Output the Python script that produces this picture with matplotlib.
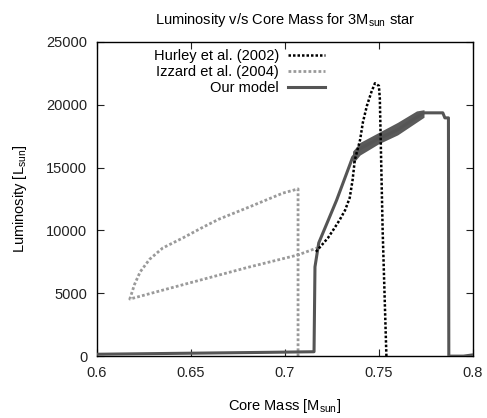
import numpy as np
import matplotlib
matplotlib.use("Agg")
import matplotlib.pyplot as plt

plt.rcParams['font.family'] = ['Liberation Sans', 'DejaVu Sans']
plt.rcParams['mathtext.fontset'] = 'custom'
plt.rcParams['mathtext.rm'] = 'Liberation Sans'
plt.rcParams['mathtext.it'] = 'Liberation Sans'

# Hurley et al. (2002)
hurley_m = [0.7165, 0.7200, 0.7229, 0.7260, 0.7290, 0.7320, 0.7345, 0.7360,
            0.7372, 0.7400, 0.7415, 0.7436, 0.7460, 0.7479, 0.7500, 0.7505,
            0.7520, 0.7540]
hurley_L = [8300, 8900, 9400, 10100, 10800, 11600, 12600, 14000,
            15600, 17200, 18600, 19900, 21000, 21700, 21500, 20500,
            10000, 0]

# Izzard et al. (2004)
izzard_m = [0.7070, 0.7070, 0.6990, 0.6810, 0.6650, 0.6570, 0.6457, 0.6350,
            0.6280, 0.6230, 0.6200, 0.6175, 0.6400, 0.6600, 0.6800, 0.7070, 0.7170]
izzard_L = [0, 13300, 12970, 11860, 10900, 10300, 9400, 8600,
            7700, 6700, 5700, 4540, 5450, 6250, 7050, 8050, 8600]

# Our model
model_m = [0.600, 0.630, 0.660, 0.690, 0.7155, 0.7160, 0.7180, 0.7275, 0.7360,
           0.7400, 0.7500, 0.7600, 0.7700, 0.7740, 0.7840, 0.7851, 0.7870, 0.7872,
           0.7950, 0.8000]
model_L = [150, 200, 250, 300, 350, 7100, 9000, 12400, 15800,
           16500, 17300, 18000, 19000, 19350, 19350, 18950, 18950, 0,
           0, 100]

# scatter band around our model track
band_m = [0.7360, 0.7400, 0.7500, 0.7600, 0.7700, 0.7740]
band_lo = [15300, 16000, 16900, 17600, 18600, 19000]
band_hi = [16300, 17000, 17800, 18600, 19500, 19600]

fig = plt.figure(figsize=(4.87, 4.18), dpi=100)
ax = fig.add_axes([0.199, 0.148, 0.772, 0.752])

ax.plot(izzard_m, izzard_L, color='#9a9a9a', lw=2.0, ls=(0, (1, 0.8)),
        label='Izzard et al. (2004)', zorder=2)
ax.fill_between(band_m, band_lo, band_hi, color='#5a5a5a', lw=0, zorder=3)
ax.plot(model_m, model_L, color='#555555', lw=2.2, label='Our model', zorder=3)
ax.plot(hurley_m, hurley_L, color='black', lw=1.8, ls=(0, (1, 0.8)),
        label='Hurley et al. (2002)', zorder=4)

ax.set_xlim(0.6, 0.8)
ax.set_ylim(0, 25000)
ax.set_xticks([0.6, 0.65, 0.7, 0.75, 0.8])
ax.set_xticklabels(['0.6', '0.65', '0.7', '0.75', '0.8'])
ax.set_yticks([0, 5000, 10000, 15000, 20000, 25000])
ax.tick_params(direction='in', top=True, right=True, length=5, width=0.8,
               labelsize=10.5, pad=7, colors='#222222')
for s in ax.spines.values():
    s.set_linewidth(1.0)

ax.set_title(r'Luminosity v/s Core Mass for 3M$_{\rm sun}$ star', fontsize=10.5, pad=13)
ax.set_xlabel(r'Core Mass [M$_{\rm sun}$]', fontsize=10.5, labelpad=12)
ax.set_ylabel(r'Luminosity [L$_{\rm sun}$]', fontsize=10.5, labelpad=12)

h, l = ax.get_legend_handles_labels()
order = [2, 0, 1]
ax.legend([h[i] for i in order], [l[i] for i in order], frameon=False,
          markerfirst=False, loc='upper right', bbox_to_anchor=(0.635, 1.01),
          fontsize=10.5, handlelength=2.6, handletextpad=0.6,
          labelspacing=0.15, borderpad=0.2)

fig.savefig('out.png', dpi=100)
